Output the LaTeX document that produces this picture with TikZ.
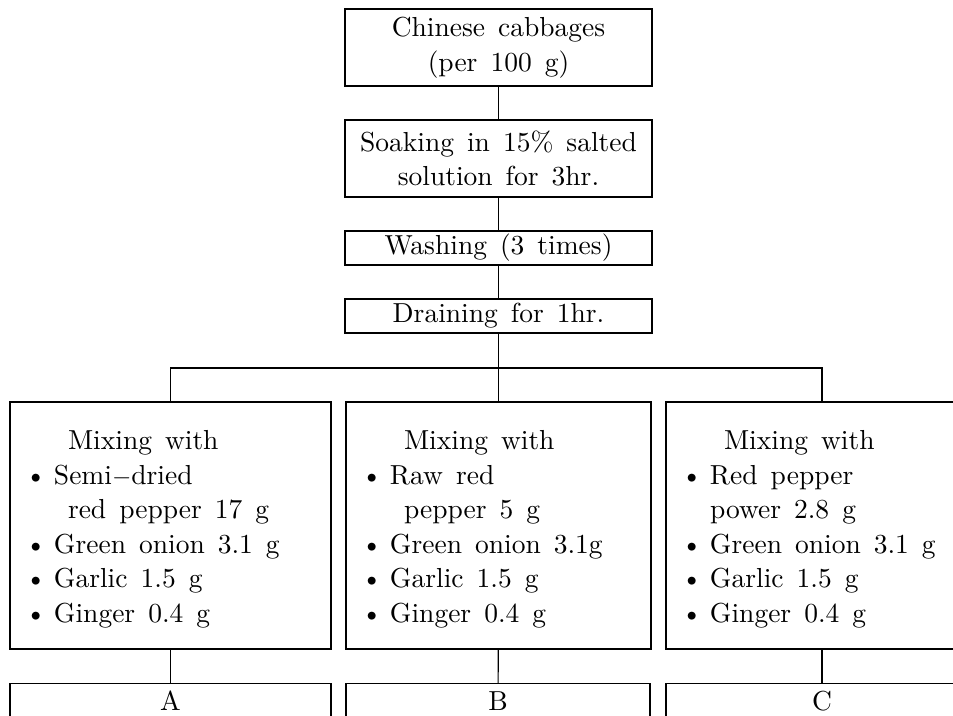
\documentclass[tikz,border=0pt]{standalone}
\usepackage{fontspec}
\newfontfamily\flowface{lmroman10-regular}[Extension=.otf]
\newcommand\flowfont{\flowface\fontsize{27.5}{34.5}\selectfont\spaceskip=13pt plus 2pt minus 1pt\relax}
\newcommand\bul{\makebox[25pt][l]{\hspace*{-4pt}\textbullet}}
\newcommand\ind{\hspace*{39pt}}
\tikzset{
	stage/.style={draw, inner sep=0pt, text width=307pt, minimum height=#1, align=flush center, font=\flowfont},
	mixbox/.style={draw, inner xsep=19pt, inner ysep=0pt, text width=#1, text height=27pt, minimum height=247pt, align=flush left, font=\flowfont},
	result/.style={draw, anchor=north, inner xsep=0pt, inner ysep=8pt, text height=19pt, text depth=60pt, minimum width=#1, font=\flowfont}
}

\begin{document}
\begin{tikzpicture}[x=1pt, y=-1pt, line width=1.2pt]
			%%%%% START %%%%%
			\useasboundingbox (0, 0) rectangle (953, 715);
			\clip (0, 0) rectangle (953, 715);
			
			\node[stage=77pt] (cabbage) at (498.5, 47.5) {Chinese cabbages\\(per 100 g)};
			\node[stage=77pt] (soak) at (498.5, 158.5) {Soaking in 15\% salted\\solution for 3hr.};
			\node[stage=34pt] (wash) at (498.5, 248) {Washing (3 times)};
			\node[stage=34pt] (drain) at (498.5, 316) {Draining for 1hr.};
			
			\node[mixbox=283pt] (mixA) at (170.5, 525.5) {\ind Mixing with\\\bul Semi$-$dried\\\ind red pepper 17 g\\\bul Green onion 3.1 g\\\bul Garlic 1.5 g\\\bul Ginger 0.4 g};
			\node[mixbox=267pt] (mixB) at (498.5, 525.5) {\ind Mixing with\\\bul Raw red\\\ind pepper 5 g\\\bul Green onion 3.1g\\\bul Garlic 1.5 g\\\bul Ginger 0.4 g};
			\node[mixbox=274pt] (mixC) at (822, 525.5) {\ind Mixing with\\\bul Red pepper\\\hspace*{25pt}power 2.8 g\\\bul Green onion 3.1 g\\\bul Garlic 1.5 g\\\bul Ginger 0.4 g};
			
			\node[result=321pt] (resA) at (170.5, 683) {A};
			\node[result=304pt] (resB) at (498, 683) {B};
			\node[result=312pt] (resC) at (822, 683) {C};
			
			\coordinate (split) at (498.5, 368);
			
			\draw (cabbage) -- (soak);
			\draw (soak) -- (wash);
			\draw (wash) -- (drain);
			\draw (drain) -- (mixB);
			\draw (mixA.north) |- (split) -| (mixC.north);
			
			\draw (mixA) -- (resA);
			\draw (mixB) -- (resB);
			\draw (mixC) -- (resC);
			%%%%% END %%%%%
\end{tikzpicture}
\end{document}
